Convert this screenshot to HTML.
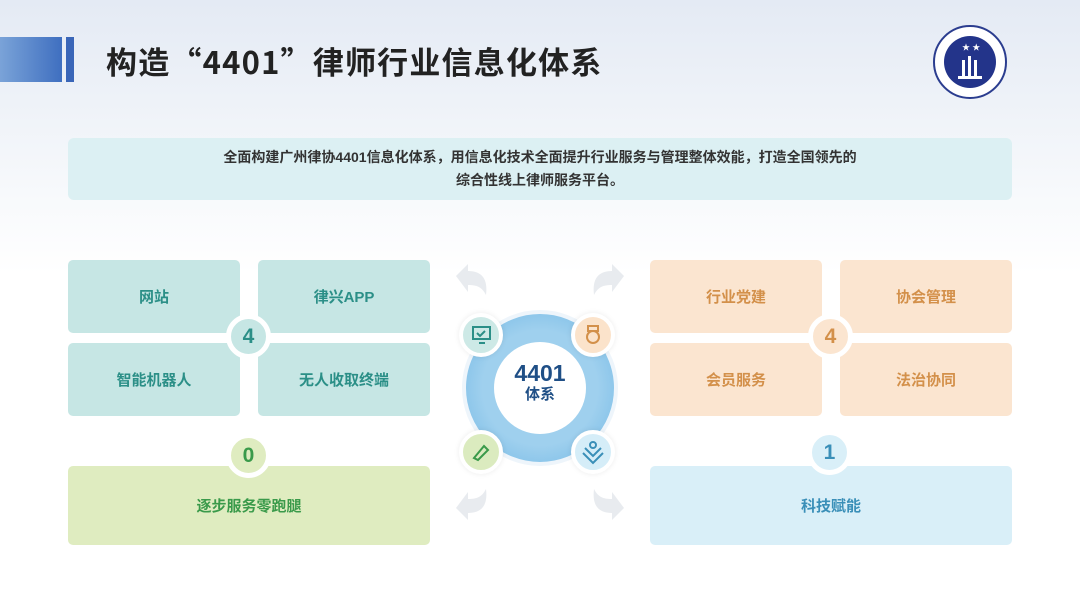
<!DOCTYPE html>
<html><head><meta charset="utf-8"><style>
*{margin:0;padding:0;box-sizing:border-box}
body{width:1080px;height:608px;overflow:hidden;position:relative;font-family:"Liberation Sans","Noto Sans CJK SC",sans-serif;background:linear-gradient(180deg,#e4eaf4 0%,#f3f6fa 25%,#ffffff 45%,#ffffff 100%)}
.a{position:absolute}
.box{position:absolute;border-radius:5px;display:flex;align-items:center;justify-content:center;font-size:15px;font-weight:bold}
.t{background:#c6e6e4;color:#2b8f87}
.o{background:#fbe5d0;color:#d3904a}
.num{position:absolute;border-radius:50%;border:5px solid #fff;display:flex;align-items:center;justify-content:center;font-size:21px;font-weight:bold}
.sc{position:absolute;width:44px;height:44px;border-radius:50%;border:4px solid #fff;box-shadow:0 0 6px rgba(0,0,0,.08)}
</style></head><body>
<div class="a" style="left:0;top:37px;width:62px;height:45px;background:linear-gradient(90deg,#7aa3d8,#3f6fc0)"></div>
<div class="a" style="left:66px;top:37px;width:8px;height:45px;background:#3a66b8"></div>
<div class="a" style="left:106px;top:39px;font-family:'Noto Sans CJK SC',sans-serif;font-size:31px;line-height:44px;font-weight:bold;color:#222;letter-spacing:1.2px;white-space:nowrap">构造“4401”律师行业信息化体系</div>
<svg class="a" style="left:932px;top:24px" width="76" height="76" viewBox="0 0 76 76">
<circle cx="38" cy="38" r="36" fill="#fff" stroke="#2b3d8f" stroke-width="2"/>
<circle cx="38" cy="38" r="26" fill="#23348a"/>
<text x="30" y="26" fill="#fff" font-size="8">★ ★</text>
<rect x="30" y="36" width="3" height="16" fill="#fff"/><rect x="36" y="32" width="3" height="20" fill="#fff"/><rect x="42" y="36" width="3" height="16" fill="#fff"/>
<rect x="26" y="52" width="24" height="3" fill="#fff"/>
</svg>
<div class="a" style="left:68px;top:138px;width:944px;height:62px;background:#dcf0f3;border-radius:6px;text-align:center;font-size:14px;font-weight:bold;color:#333;line-height:23px;padding-top:8px">全面构建广州律协4401信息化体系，用信息化技术全面提升行业服务与管理整体效能，打造全国领先的<br>综合性线上律师服务平台。</div>

<div class="box t" style="left:68px;top:260px;width:172px;height:73px">网站</div>
<div class="box t" style="left:258px;top:260px;width:172px;height:73px">律兴APP</div>
<div class="box t" style="left:68px;top:343px;width:172px;height:73px">智能机器人</div>
<div class="box t" style="left:258px;top:343px;width:172px;height:73px">无人收取终端</div>
<div class="num" style="left:226px;top:314px;width:45px;height:45px;background:#c6e6e4;color:#2b8f87">4</div>
<div class="box" style="left:68px;top:466px;width:362px;height:79px;background:#dfecc0;color:#3a9a4a">逐步服务零跑腿</div>
<div class="num" style="left:226px;top:433px;width:45px;height:45px;background:#dfecc0;color:#3a9a4a">0</div>

<div class="box o" style="left:650px;top:260px;width:172px;height:73px">行业党建</div>
<div class="box o" style="left:840px;top:260px;width:172px;height:73px">协会管理</div>
<div class="box o" style="left:650px;top:343px;width:172px;height:73px">会员服务</div>
<div class="box o" style="left:840px;top:343px;width:172px;height:73px">法治协同</div>
<div class="num" style="left:808px;top:314px;width:45px;height:45px;background:#fbe5d0;color:#d3904a">4</div>
<div class="box" style="left:650px;top:466px;width:362px;height:79px;background:#d9eff8;color:#3a8fb8">科技赋能</div>
<div class="num" style="left:807px;top:430px;width:45px;height:45px;background:#d9eff8;color:#3a8fb8">1</div>

<div class="a" style="left:462px;top:310px;width:156px;height:156px;border-radius:50%;background:radial-gradient(circle,#9fd0ee 55%,#6fb6e4 100%);border:4px solid #eef5fb"></div>
<div class="a" style="left:494px;top:342px;width:92px;height:92px;border-radius:50%;background:#fff;text-align:center;color:#1f4f86;font-weight:bold">
<div style="font-size:23px;margin-top:18px;line-height:26px">4401</div><div style="font-size:15px;line-height:18px">体系</div></div>
<div class="sc" style="left:459px;top:313px;background:#cde9e6"></div>
<div class="sc" style="left:571px;top:313px;background:#fbe3cb"></div>
<div class="sc" style="left:459px;top:430px;background:#dbebbf"></div>
<div class="sc" style="left:571px;top:430px;background:#d5edf8"></div>
<svg class="a" style="left:459px;top:313px" width="180" height="165">
<rect x="14" y="14" width="17" height="12" fill="none" stroke="#2b8f87" stroke-width="2"/><path d="M18 20l3 3 5-5M20 30h6" stroke="#2b8f87" stroke-width="2" fill="none"/>
<circle cx="134" cy="24" r="6" fill="none" stroke="#d3904a" stroke-width="2"/><path d="M129 13h10v5h-10z" fill="none" stroke="#d3904a" stroke-width="2"/>
<path d="M15 145l10-12 4 4-10 10z" fill="none" stroke="#3a9a4a" stroke-width="2"/>
<path d="M126 135l8 8 8-8M124 140l10 10 10-10" fill="none" stroke="#3a8fb8" stroke-width="2"/><circle cx="134" cy="132" r="3" fill="none" stroke="#3a8fb8" stroke-width="2"/>
</svg>
<svg class="a" style="left:448px;top:262px" width="184" height="262">
<g fill="#e8ebef">
<path d="M8 14l12-12v7c14 0 20 8 18 24c-4-8-9-10-18-10v7z"/>
<path d="M176 14l-12-12v7c-14 0-20 8-18 24c4-8 9-10 18-10v7z"/>
<path d="M8 246l12 12v-7c14 0 20-8 18-24c-4 8-9 10-18 10v-7z"/>
<path d="M176 246l-12 12v-7c-14 0-20-8-18-24c4 8 9 10 18 10v-7z"/>
</g></svg>
</body></html>
